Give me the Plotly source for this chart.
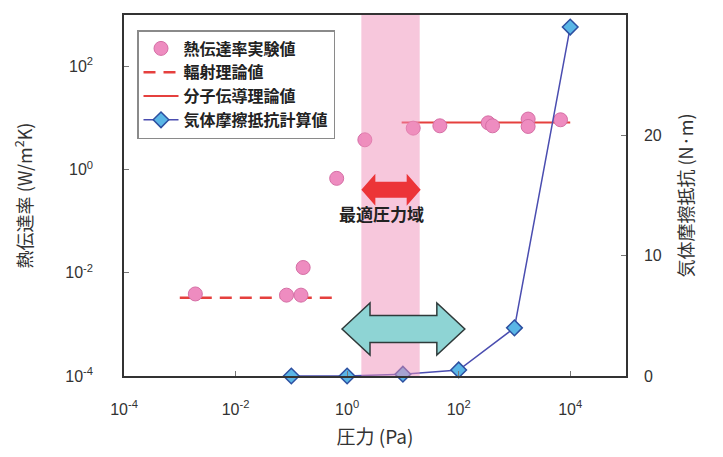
import math
import plotly.graph_objects as go

# ---------------- data ----------------
# experimental heat transfer coefficient (Pa, W/m2K)
exp_p = [0.0019, 0.082, 0.149, 0.163, 0.65, 2.08, 15.3, 46, 338, 405, 1760, 1760, 6700]
exp_h = [0.0039, 0.0037, 0.0037, 0.0127, 0.68, 3.8, 6.4, 7.1, 8.1, 7.1, 9.6, 6.9, 9.3]

# radiation theory
rad_p = [0.001, 0.55]
rad_h = [0.0033, 0.0033]

# molecular conduction theory
mol_p = [9.5, 10000]
mol_h = [8.2, 8.2]

# gas friction resistance (N·m)
fric_p = [0.1, 1, 10, 100, 1000, 10000]
fric_f = [0.0, 0.0, 0.15, 0.5, 4.0, 29.0]

# optimal pressure range (Pa)
band_p = [1.8, 20]

x_tickvals = [1e-4, 1e-2, 1, 1e2, 1e4]
x_ticktext = ["10<sup>-4</sup>", "10<sup>-2</sup>", "10<sup>0</sup>", "10<sup>2</sup>", "10<sup>4</sup>"]
y_tickvals = [1e-4, 1e-2, 1, 1e2]
y_ticktext = ["10<sup>-4</sup>", "10<sup>-2</sup>", "10<sup>0</sup>", "10<sup>2</sup>"]
y2_tickvals = [0, 10, 20, 30]

names = ["熱伝達率実験値", "輻射理論値", "分子伝導理論値", "気体摩擦抵抗計算値"]

# ---------------- layout constants ----------------
# the page body has an 8px margin, so the figure is drawn 8px right/down
W, H = 723, 457
ML, MR, MT, MB = 116, 105, 7, 89
PW, PH = W - ML - MR, H - MT - MB
XR = [-4, 5]
YR = [-4, 3]
Y2R = [0, 30]

JP = "Noto Sans CJK JP"
NUM = "Liberation Sans, Arial, sans-serif"


def fx(p):
    return (math.log10(p) - XR[0]) / (XR[1] - XR[0])


def double_arrow(x0, x1, yc, head_half, shaft_half, head_len):
    """path in paper coords; sizes given in pixels"""
    hh, sh = head_half / PH, shaft_half / PH
    hl = head_len / PW
    pts = [
        (x0, yc), (x0 + hl, yc + hh), (x0 + hl, yc + sh), (x1 - hl, yc + sh),
        (x1 - hl, yc + hh), (x1, yc), (x1 - hl, yc - hh), (x1 - hl, yc - sh),
        (x0 + hl, yc - sh), (x0 + hl, yc - hh),
    ]
    return "M " + " L ".join(f"{a:.5f},{b:.5f}" for a, b in pts) + " Z"


fig = go.Figure()

fig.add_trace(go.Scatter(
    x=rad_p, y=rad_h, mode="lines", name=names[1], legendrank=2,
    line=dict(color="#E5403E", width=2.5, dash="12px,8px"),
))
fig.add_trace(go.Scatter(
    x=mol_p, y=mol_h, mode="lines", name=names[2], legendrank=3,
    line=dict(color="#E5403E", width=2),
))
fig.add_trace(go.Scatter(
    x=fric_p, y=fric_f, mode="lines+markers", name=names[3], legendrank=4,
    yaxis="y2", cliponaxis=False,
    line=dict(color="#4A4DB0", width=1.5),
    marker=dict(symbol="diamond", size=12, color="#5AB6E6",
                line=dict(color="#2C4FA0", width=1.5)),
))
fig.add_trace(go.Scatter(
    x=exp_p, y=exp_h, mode="markers", name=names[0], legendrank=1,
    cliponaxis=False,
    marker=dict(symbol="circle", size=14, color="#EE8CC0",
                line=dict(color="#D56FA5", width=1)),
))

# optimal pressure band
fig.add_shape(type="rect", xref="x", yref="paper", x0=band_p[0], x1=band_p[1],
              y0=0, y1=1, fillcolor="#EF90BA", opacity=0.5, line_width=0,
              layer="above")

# red double arrow across band
red_y = (math.log10(0.41) - YR[0]) / (YR[1] - YR[0])
fig.add_shape(type="path", xref="paper", yref="paper",
              path=double_arrow(fx(band_p[0]), fx(band_p[1]) + 0.002, red_y, 16, 8, 14),
              fillcolor="#EC3438", line=dict(width=0), layer="above")

# teal double arrow
teal_y = (3.9 - Y2R[0]) / (Y2R[1] - Y2R[0])
fig.add_shape(type="path", xref="paper", yref="paper",
              path=double_arrow(fx(0.81), fx(129), teal_y, 26, 13.5, 28),
              fillcolor="#8ED4D4", line=dict(color="#2F3A3A", width=1.5), layer="above")

fig.add_annotation(text="最適圧力域", x=math.log10(4.2), y=math.log10(0.14),
                   xref="x", yref="y", showarrow=False,
                   font=dict(family=JP, size=17, color="#222222", weight=700))

axis_common = dict(
    showline=True, linecolor="#333333", linewidth=1.5,
    ticks="inside", ticklen=5, tickcolor="#777777", tickwidth=1,
    showgrid=False, zeroline=False,
    tickfont=dict(family=NUM, size=16, color="#333333"),
)

fig.update_layout(
    width=W, height=H,
    margin=dict(l=ML, r=MR, t=MT, b=MB, autoexpand=False),
    paper_bgcolor="white", plot_bgcolor="white",
    showlegend=True,
    legend=dict(x=(137 - 8 - ML) / PW, y=(H - MB - (30 - 8)) / PH,
                xanchor="left", yanchor="top",
                bgcolor="white", bordercolor="#8A8A8A", borderwidth=1.5,
                font=dict(family=JP, size=16, color="#222222", weight=700),
                tracegroupgap=0, itemwidth=35),
    xaxis=dict(type="log", range=XR, mirror=True,
               tickvals=x_tickvals, ticktext=x_ticktext, ticklabelstandoff=18,
               title=dict(text="圧力 (Pa)", font=dict(family=JP, size=19, color="#333333"),
                          standoff=14),
               **axis_common),
    yaxis=dict(type="log", range=YR,
               tickvals=y_tickvals, ticktext=y_ticktext, ticklabelstandoff=26,
               title=dict(text="熱伝達率 (W/m<sup>2</sup>K)", font=dict(family=JP, size=18, color="#333333"),
                          standoff=28),
               **axis_common),
    yaxis2=dict(range=Y2R, overlaying="y", side="right",
                tickvals=y2_tickvals, ticklabelstandoff=13,
                title=dict(text="気体摩擦抵抗 (N·m)", font=dict(family=JP, size=18, color="#333333"),
                           standoff=20),
                **axis_common),
)

fig.write_html("out.html")
